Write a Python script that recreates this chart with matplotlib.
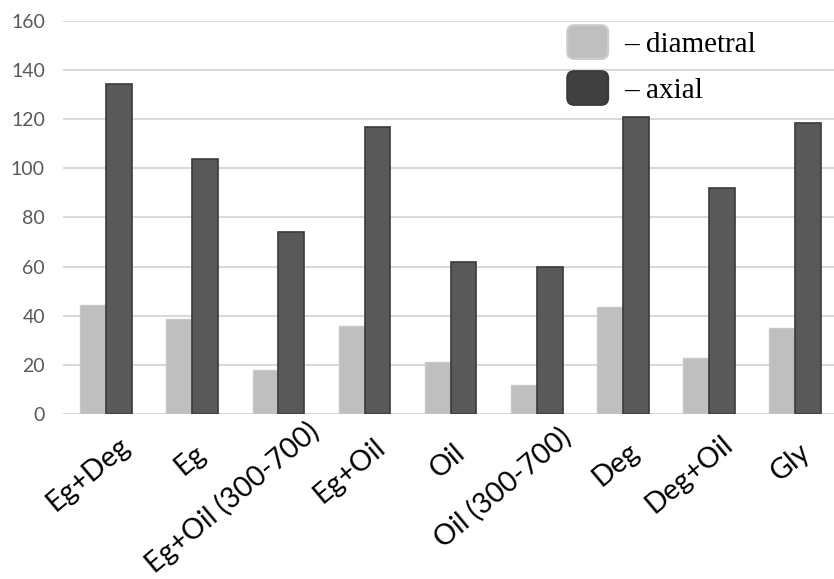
import matplotlib.pyplot as plt
from matplotlib.patches import Patch, FancyBboxPatch
from matplotlib.legend_handler import HandlerPatch
import numpy as np

categories = ["Eg+Deg", "Eg", "Eg+Oil (300-700)", "Eg+Oil", "Oil",
              "Oil (300-700)", "Deg", "Deg+Oil", "Gly"]
diametral = [44.5, 38.5, 18, 36, 21, 12, 43.5, 23, 35]
axial = [134.5, 104, 74, 117, 62, 60, 121, 92, 118.5]


class RoundBox(HandlerPatch):
    def create_artists(self, legend, orig_handle, xdescent, ydescent,
                       width, height, fontsize, trans):
        p = FancyBboxPatch((-xdescent, -ydescent), width, height,
                           boxstyle="round,pad=0,rounding_size=5",
                           facecolor=orig_handle.get_facecolor(),
                           edgecolor=orig_handle.get_edgecolor(), linewidth=1.5)
        p.set_transform(trans)
        return [p]


fig = plt.figure(figsize=(8.34, 5.79), dpi=100)
ax = fig.add_axes([63 / 834, 165 / 579, 1 - 63 / 834, 393 / 579])

x = np.arange(len(categories))
w = 0.3
ax.bar(x - w / 2, diametral, w, color="#BFBFBF", edgecolor="#C8C8C8", linewidth=1, zorder=3)
ax.bar(x + w / 2, axial, w, color="#595959", edgecolor="#3A3A3A", linewidth=1.2, zorder=3)

ax.set_ylim(0, 160)
ax.set_xlim(-0.5, 8.45)
ax.set_yticks(range(0, 161, 20))
ax.grid(axis="y", color="#D9D9D9", linewidth=1.5, zorder=0)
for s in ax.spines.values():
    s.set_visible(False)
ax.tick_params(axis="both", length=0)
ax.tick_params(axis="y", pad=13, labelsize=14, labelcolor="#595959")
ax.set_yticklabels([str(v) for v in range(0, 161, 20)], family="Lato")
ax.set_xticks(x)
ax.set_xticklabels([])

# rotated category labels, placed the way the spreadsheet tool does it
fig.canvas.draw()
renderer = fig.canvas.get_renderer()
ang = np.radians(40)
for i, name in enumerate(categories):
    t = ax.text(0, 0, name, fontsize=20.5, family="Lato")
    L = t.get_window_extent(renderer).width
    t.remove()
    k = 0.19 * L
    ax.annotate(name, xy=(i, 0), xycoords="data", textcoords="offset pixels",
                xytext=(-3 + k * np.cos(ang), -30 + k * np.sin(ang)),
                rotation=40, rotation_mode="anchor", ha="right", va="top",
                fontsize=20.5, family="Lato", color="black", annotation_clip=False)

handles = [Patch(facecolor="#BFBFBF", edgecolor="#CCCCCC"),
           Patch(facecolor="#404040", edgecolor="#3A3A3A")]
ax.legend(handles, ["– diametral", "– axial"], loc="upper left",
          bbox_to_anchor=(0.62, 1.056), frameon=False,
          prop={"family": "Liberation Serif", "size": 21},
          handlelength=1.4, handleheight=1.4, handletextpad=0.55, labelspacing=0.42,
          handler_map={Patch: RoundBox()})

fig.savefig("out.png", dpi=100)
